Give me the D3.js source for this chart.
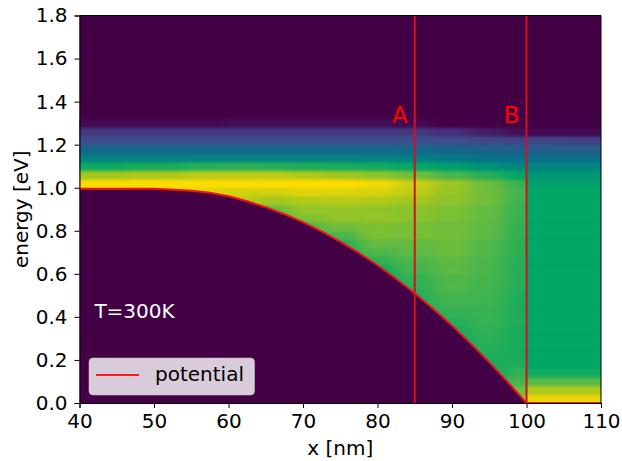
<!DOCTYPE html>
<html>
<head>
<meta charset="utf-8">
<script src="https://cdn.jsdelivr.net/npm/d3@7"></script>
<style>
  html, body { margin: 0; padding: 0; background: #fff; }
  svg { display: block; }
  text { font-family: "DejaVu Sans", sans-serif; }
</style>
</head>
<body>
<svg></svg>
<script>
// energy of each heatmap row (centre, eV)
let energies = [0.02,0.06,0.10,0.14,0.18,0.22,0.26,0.30,0.34,0.38,0.42,0.46,0.50,0.54,0.58,0.62,0.66,0.70,0.74,0.78,0.82,0.86,0.90,0.94,0.98,1.02,1.06,1.10,1.14,1.18,1.22,1.26,1.30]

// position of each column (nm), left of the x=100 edge
let leftColumns = [40,52,57,62,66,70,75,80,85,90,95,99]
// density, one list per column, bottom row first
let col40 = [1,1,1,1,1,1,1,1,1,1,1,1,1,1,1,1,1,1,1,1,1,1,1,1,1,1,.86,.62,.45,.32,.2,.13,.02]
let col52 = [1,1,1,1,1,1,1,1,1,1,1,1,1,1,1,1,1,1,1,1,1,1,1,1,.95,1,.88,.64,.45,.32,.2,.13,.02]
let col57 = [.95,.95,.95,.95,.95,.95,.95,.95,.95,.95,.95,.95,.95,.95,.95,.95,.95,.95,.95,.95,.95,.95,.95,.95,.95,1,.9,.66,.46,.32,.2,.13,.02]
let col62 = [.9,.9,.9,.9,.9,.9,.9,.9,.9,.9,.9,.9,.9,.9,.9,.9,.9,.9,.9,.9,.9,.9,.9,.9,.93,1,.9,.67,.46,.32,.2,.13,.03]
let col66 = [.76,.76,.76,.76,.76,.76,.76,.76,.76,.76,.76,.76,.76,.76,.76,.76,.76,.76,.76,.76,.76,.76,.76,.86,.93,1,.9,.66,.46,.32,.2,.13,.03]
let col70 = [.7,.7,.7,.7,.7,.7,.7,.7,.7,.7,.7,.7,.7,.7,.7,.7,.7,.7,.7,.7,.72,.8,.84,.88,.95,1,.88,.65,.46,.32,.2,.13,.03]
let col75 = [.66,.66,.66,.66,.66,.66,.66,.66,.66,.66,.66,.66,.66,.66,.66,.66,.66,.66,.66,.72,.78,.83,.84,.89,.95,1,.86,.64,.46,.32,.2,.13,.03]
let col80 = [.63,.63,.63,.63,.63,.63,.63,.63,.63,.63,.63,.63,.63,.63,.63,.63,.68,.72,.76,.8,.8,.84,.83,.88,.94,.98,.83,.63,.45,.32,.2,.13,.03]
let col85 = [.66,.66,.66,.66,.66,.66,.66,.66,.66,.66,.66,.66,.66,.67,.68,.71,.72,.75,.76,.79,.79,.82,.82,.86,.9,.92,.78,.61,.44,.32,.2,.13,.02]
let col90 = [.64,.64,.64,.64,.64,.64,.64,.64,.64,.66,.68,.7,.71,.73,.73,.75,.75,.77,.77,.79,.78,.8,.8,.83,.84,.85,.72,.57,.41,.31,.2,.1,0]
let col95 = [.64,.64,.64,.64,.64,.65,.66,.67,.68,.69,.69,.7,.7,.71,.71,.72,.72,.73,.73,.75,.75,.76,.76,.78,.78,.77,.66,.52,.38,.3,.18,.06,0]
let col99 = [.85,.78,.72,.68,.65,.64,.64,.64,.64,.65,.65,.65,.65,.66,.66,.66,.66,.67,.67,.68,.68,.69,.69,.7,.71,.69,.6,.48,.36,.28,.17,.03,0]
let leftValues = [col40,col52,col57,col62,col66,col70,col75,col80,col85,col90,col95,col99]

// the part right of x=100
let rightColumns = [101,109]
let col101 = [.97,.88,.74,.63,.6,.6,.6,.6,.6,.6,.6,.6,.6,.6,.6,.6,.6,.6,.6,.6,.6,.6,.6,.6,.6,.58,.54,.47,.36,.28,.17,.02,0]
let col109 = [.97,.88,.74,.63,.6,.6,.6,.6,.6,.6,.6,.6,.6,.6,.6,.6,.6,.6,.6,.6,.6,.6,.6,.6,.6,.58,.54,.47,.36,.27,.16,.02,0]
let rightValues = [col101,col109]

// conduction band edge
let potentialX = [40,50,52,55,57.5,60,62.5,65,67.5,70,72.5,75,77.5,80,82.5,85,87.5,90,92.5,95,97.5,100,110]
let potentialE = [.995,.995,.992,.986,.977,.96,.937,.91,.877,.84,.797,.75,.697,.64,.577,.51,.437,.36,.277,.19,.097,0,0]

let cutLines = [85,100]
let cutNames = ['A','B']
let xTicks = [40,50,60,70,80,90,100,110]
let yTicks = [0,.2,.4,.6,.8,1,1.2,1.4,1.6,1.8]

// colours of the map, low to high
let mapStops = [0,.1,.2,.35,.5,.6,.75,.87,1]
let mapColors = ['#440045','#462f7e','#3d4f8b','#0b6c8b','#008b7e','#00a765','#5dba45','#a8c81c','#ffdc00']

let width = 622
let height = 461
let left = 79.5
let right = 601
let top_ = 15.5
let bottom = 403

let svg = d3.select('svg')
svg.attr('width', width).attr('height', height)

let xScale = d3.scaleLinear().domain([40,110]).range([left,right])
let yScale = d3.scaleLinear().domain([0,1.8]).range([bottom,top_])
let colorScale = d3.scaleLinear().domain(mapStops).range(mapColors).clamp(true)

let defs = svg.append('defs')

// the cells are coarse so smear them a bit, mostly along x
let blur = defs.append('filter')
    .attr('id', 'smear')
    .attr('filterUnits', 'userSpaceOnUse')
    .attr('x', 0).attr('y', 0).attr('width', width).attr('height', height)
    .attr('color-interpolation-filters', 'sRGB')
blur.append('feGaussianBlur').attr('stdDeviation', '8 1.6')

let areaAbove = d3.area()
    .x((d, i) => xScale(potentialX[i]))
    .y0(top_)
    .y1((d) => yScale(d))

// only the points up to x=100 bound the left part
defs.append('clipPath').attr('id', 'leftClip')
    .append('path')
    .attr('d', areaAbove(potentialE.slice(0, potentialX.indexOf(100) + 1)))

defs.append('clipPath').attr('id', 'rightClip')
    .append('rect')
    .attr('x', xScale(100)).attr('y', top_)
    .attr('width', xScale(110) - xScale(100)).attr('height', bottom - top_)

// background of the plot
svg.append('rect')
   .attr('x', left).attr('y', top_)
   .attr('width', right - left).attr('height', bottom - top_)
   .attr('fill', mapColors[0])

// draws one block of columns, outer cells run past the clip so the blur has no edge
let drawCells = (columns, values, clipId, lowX, highX) => {
    let cells = svg.append('g').attr('clip-path', 'url(#' + clipId + ')')
                   .append('g').attr('filter', 'url(#smear)')
    columns.forEach((col, i) => {
        let x0 = i == 0 ? lowX : (columns[i - 1] + col) / 2
        let x1 = i == columns.length - 1 ? highX : (col + columns[i + 1]) / 2
        energies.forEach((e, j) => {
            let e0 = j == 0 ? -.2 : e - .02
            cells.append('rect')
                 .attr('x', xScale(x0))
                 .attr('width', xScale(x1) - xScale(x0) + .5)
                 .attr('y', yScale(e + .02))
                 .attr('height', yScale(e0) - yScale(e + .02) + .5)
                 .attr('fill', colorScale(values[i][j]))
        })
    })
}
drawCells(leftColumns, leftValues, 'leftClip', 25, 112)
drawCells(rightColumns, rightValues, 'rightClip', 90, 125)

// vertical cuts
svg.selectAll('.cut')
   .data(cutLines)
   .enter()
   .append('line')
   .attr('class', 'cut')
   .attr('x1', (d) => xScale(d)).attr('x2', (d) => xScale(d))
   .attr('y1', top_).attr('y2', bottom)
   .attr('stroke', '#d4101e')
   .attr('stroke-width', 2)

svg.selectAll('.cutName')
   .data(cutNames)
   .enter()
   .append('text')
   .attr('class', 'cutName')
   .attr('x', (d, i) => xScale(cutLines[i] - 2))
   .attr('y', yScale(1.3))
   .attr('text-anchor', 'middle')
   .attr('font-size', 23)
   .attr('fill', '#ff0000')
   .text((d) => d)

// potential
let potentialLine = d3.line()
    .x((d, i) => xScale(potentialX[i]))
    .y((d) => yScale(d))

svg.append('path')
   .attr('d', potentialLine(potentialE))
   .attr('fill', 'none')
   .attr('stroke', '#f5101c')
   .attr('stroke-width', 2)

svg.append('text')
   .attr('x', xScale(42)).attr('y', yScale(.4) + 1)
   .attr('font-size', 20)
   .attr('fill', '#fff')
   .text('T=300K')

// legend
svg.append('rect')
   .attr('x', 89).attr('y', 358).attr('width', 165.5).attr('height', 37)
   .attr('rx', 4)
   .attr('fill', '#fff').attr('fill-opacity', .8)
   .attr('stroke', '#ccc').attr('stroke-opacity', .5)
svg.append('line')
   .attr('x1', 96).attr('x2', 139).attr('y1', 375).attr('y2', 375)
   .attr('stroke', '#ff1a1a').attr('stroke-width', 2)
svg.append('text')
   .attr('x', 155).attr('y', 381)
   .attr('font-size', 20)
   .attr('fill', '#000')
   .text('potential')

// axes
let xAxis = d3.axisBottom(xScale).tickValues(xTicks).tickSize(5).tickPadding(6).tickFormat(d3.format('d'))
let yAxis = d3.axisLeft(yScale).tickValues(yTicks).tickSize(5).tickPadding(7).tickFormat(d3.format('.1f'))

let xGroup = svg.append('g').attr('transform', 'translate(0,' + bottom + ')').call(xAxis)
let yGroup = svg.append('g').attr('transform', 'translate(' + left + ',0)').call(yAxis)
xGroup.selectAll('text').attr('font-size', 20).attr('font-family', '"DejaVu Sans"').attr('fill', '#000')
yGroup.selectAll('text').attr('font-size', 20).attr('font-family', '"DejaVu Sans"').attr('fill', '#000')

svg.append('line').attr('x1', right).attr('x2', right).attr('y1', top_).attr('y2', bottom).attr('stroke', '#000')
svg.append('line').attr('x1', left).attr('x2', right).attr('y1', top_).attr('y2', top_).attr('stroke', '#000')

svg.append('text')
   .attr('x', (left + right) / 2).attr('y', 455)
   .attr('text-anchor', 'middle')
   .attr('font-size', 20)
   .text('x [nm]')

svg.append('text')
   .attr('transform', 'translate(28,' + (top_ + bottom) / 2 + ') rotate(-90)')
   .attr('text-anchor', 'middle')
   .attr('font-size', 20)
   .text('energy [eV]')
</script>
</body>
</html>
